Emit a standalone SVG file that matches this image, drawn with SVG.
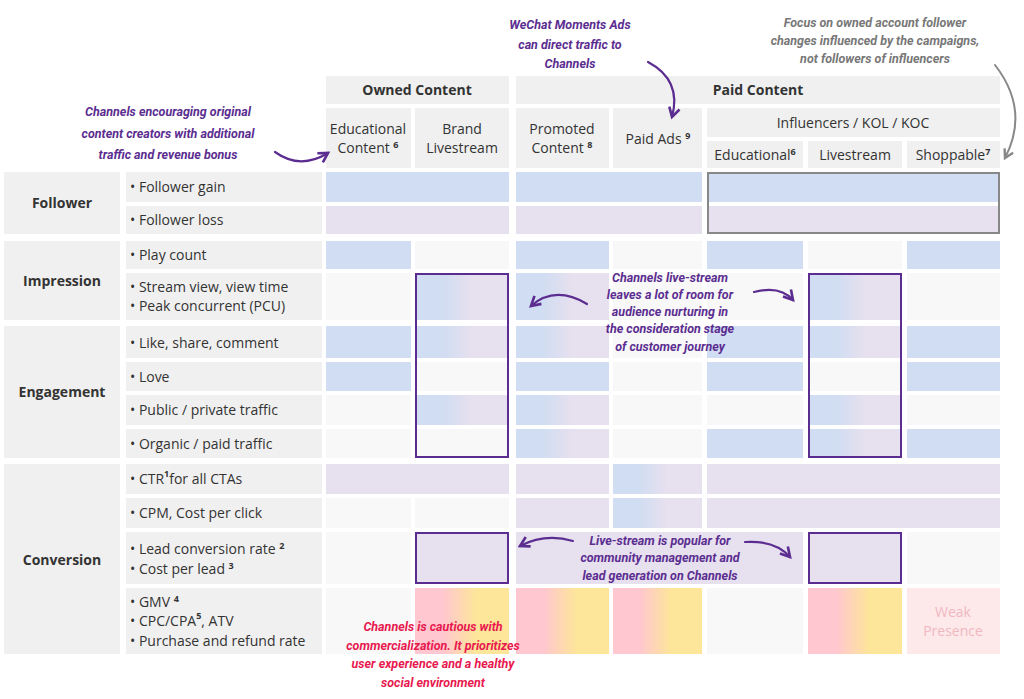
<svg xmlns="http://www.w3.org/2000/svg" width="1024" height="699" viewBox="0 0 1024 699">
<style>
.h{fill:#f0f0f0}
.t{font-family:"Open Sans","Noto Sans",sans-serif;font-size:14px;fill:#333}
.b{font-weight:bold}
.sup{font-size:9px;font-weight:bold}
.bl{fill:#d1ddf2}.lv{fill:#e6e0ef}.e{fill:#f8f8f8}.g{fill:url(#gbl)}.ry{fill:url(#gry)}
.note{font-family:"Roboto","Liberation Sans",sans-serif;font-style:italic;font-weight:bold;font-size:12.5px;fill:#5b2d90}
.box{fill:none;stroke:#5b2d90;stroke-width:2}
.arr{fill:none;stroke:#5b2d90;stroke-width:2.2;stroke-linecap:round}
</style>
<defs>
<linearGradient id="gbl" x1="0" y1="0" x2="1" y2="0"><stop offset="0.3" stop-color="#d1ddf2"/><stop offset="0.6" stop-color="#e6e0ef"/></linearGradient>
<linearGradient id="gry" x1="0" y1="0" x2="1" y2="0"><stop offset="0.3" stop-color="#ffc7cf"/><stop offset="0.65" stop-color="#fde59a"/></linearGradient>
<marker id="ah" viewBox="0 0 10 10" refX="8" refY="5" markerWidth="6" markerHeight="6" orient="auto"><path d="M1,1 L8,5 L1,9" fill="none" stroke="#5b2d90" stroke-width="2"/></marker>
<marker id="ahg" viewBox="0 0 10 10" refX="8" refY="5" markerWidth="6" markerHeight="6" orient="auto"><path d="M1,1 L8,5 L1,9" fill="none" stroke="#888" stroke-width="2"/></marker>
</defs>
<rect width="1024" height="699" fill="#fff"/>
<g id="headers">
<rect class="h" x="326" y="76" width="183" height="28"/><text class="t b" x="417" y="95" text-anchor="middle">Owned Content</text>
<rect class="h" x="516" y="76" width="484" height="28"/><text class="t b" x="758" y="95" text-anchor="middle">Paid Content</text>
<rect class="h" x="326" y="108" width="85" height="60"/><text class="t" x="368" y="134" text-anchor="middle">Educational</text><text class="t" x="368" y="153" text-anchor="middle">Content <tspan class="sup" dy="-5">6</tspan></text>
<rect class="h" x="415" y="108" width="94" height="60"/><text class="t" x="462" y="134" text-anchor="middle">Brand</text><text class="t" x="462" y="153" text-anchor="middle">Livestream</text>
<rect class="h" x="516" y="108" width="93" height="60"/><text class="t" x="562" y="134" text-anchor="middle">Promoted</text><text class="t" x="562" y="153" text-anchor="middle">Content <tspan class="sup" dy="-5">8</tspan></text>
<rect class="h" x="613" y="108" width="89" height="60"/><text class="t" x="658" y="144" text-anchor="middle">Paid Ads <tspan class="sup" dy="-5">9</tspan></text>
<rect class="h" x="707" y="108" width="293" height="29"/><text class="t" x="853" y="128" text-anchor="middle">Influencers / KOL / KOC</text>
<rect class="h" x="707" y="141" width="96" height="27"/><text class="t" x="755" y="160" text-anchor="middle">Educational<tspan class="sup" dy="-5">6</tspan></text>
<rect class="h" x="808" y="141" width="94" height="27"/><text class="t" x="855" y="160" text-anchor="middle">Livestream</text>
<rect class="h" x="907" y="141" width="93" height="27"/><text class="t" x="953" y="160" text-anchor="middle">Shoppable<tspan class="sup" dy="-5">7</tspan></text>
</g>
<g id="groups">
<rect class="h" x="4" y="172" width="116" height="62"/><text class="t b" x="62" y="208" text-anchor="middle">Follower</text>
<rect class="h" x="4" y="241" width="116" height="79"/><text class="t b" x="62" y="286" text-anchor="middle">Impression</text>
<rect class="h" x="4" y="326" width="116" height="132"/><text class="t b" x="62" y="397" text-anchor="middle">Engagement</text>
<rect class="h" x="4" y="464" width="116" height="190"/><text class="t b" x="62" y="565" text-anchor="middle">Conversion</text>
</g>
<g id="metrics">
<rect class="h" x="126" y="172" width="196" height="30"/><text class="t" x="130" y="192">•  Follower gain</text>
<rect class="h" x="126" y="206" width="196" height="28"/><text class="t" x="130" y="225">•  Follower loss</text>
<rect class="h" x="126" y="241" width="196" height="28"/><text class="t" x="130" y="260">•  Play count</text>
<rect class="h" x="126" y="273" width="196" height="47"/><text class="t" x="130" y="292">•  Stream view, view time</text><text class="t" x="130" y="311">•  Peak concurrent (PCU)</text>
<rect class="h" x="126" y="326" width="196" height="32"/><text class="t" x="130" y="348">•  Like, share, comment</text>
<rect class="h" x="126" y="362" width="196" height="29"/><text class="t" x="130" y="382">•  Love</text>
<rect class="h" x="126" y="395" width="196" height="30"/><text class="t" x="130" y="415">•  Public / private traffic</text>
<rect class="h" x="126" y="429" width="196" height="29"/><text class="t" x="130" y="449">•  Organic / paid traffic</text>
<rect class="h" x="126" y="464" width="196" height="30"/><text class="t" x="130" y="484">•  CTR<tspan class="sup" dy="-7">1</tspan><tspan dy="7">for all CTAs</tspan></text>
<rect class="h" x="126" y="498" width="196" height="30"/><text class="t" x="130" y="518">•  CPM, Cost per click</text>
<rect class="h" x="126" y="532" width="196" height="52"/><text class="t" x="130" y="554">•  Lead conversion rate <tspan class="sup" dy="-5">2</tspan></text><text class="t" x="130" y="574">•  Cost per lead <tspan class="sup" dy="-5">3</tspan></text>
<rect class="h" x="126" y="588" width="196" height="66"/><text class="t" x="130" y="607">•  GMV <tspan class="sup" dy="-5">4</tspan></text><text class="t" x="130" y="626">•  CPC/CPA<tspan class="sup" dy="-7">5</tspan><tspan dy="7">, ATV</tspan></text><text class="t" x="130" y="646">•  Purchase and refund rate</text>
</g>
<g id="cells">
<rect class="bl" x="326" y="172" width="183" height="30"/><rect class="bl" x="516" y="172" width="186" height="30"/><rect class="bl" x="707" y="172" width="293" height="30"/>
<rect class="lv" x="326" y="206" width="183" height="28"/><rect class="lv" x="516" y="206" width="186" height="28"/><rect class="lv" x="707" y="206" width="293" height="28"/>
<!-- play -->
<rect class="bl" x="326" y="241" width="85" height="28"/><rect class="e" x="415" y="241" width="94" height="28"/><rect class="bl" x="516" y="241" width="93" height="28"/><rect class="e" x="613" y="241" width="89" height="28"/><rect class="bl" x="707" y="241" width="96" height="28"/><rect class="e" x="808" y="241" width="94" height="28"/><rect class="bl" x="907" y="241" width="93" height="28"/>
<!-- stream -->
<rect class="e" x="326" y="273" width="85" height="47"/><rect class="g" x="415" y="273" width="94" height="47"/><rect class="g" x="516" y="273" width="93" height="47"/><rect class="e" x="613" y="273" width="89" height="47"/><rect class="e" x="707" y="273" width="96" height="47"/><rect class="g" x="808" y="273" width="94" height="47"/><rect class="e" x="907" y="273" width="93" height="47"/>
<!-- like -->
<rect class="bl" x="326" y="326" width="85" height="32"/><rect class="g" x="415" y="326" width="94" height="32"/><rect class="g" x="516" y="326" width="93" height="32"/><rect class="e" x="613" y="326" width="89" height="32"/><rect class="bl" x="707" y="326" width="96" height="32"/><rect class="g" x="808" y="326" width="94" height="32"/><rect class="bl" x="907" y="326" width="93" height="32"/>
<!-- love -->
<rect class="bl" x="326" y="362" width="85" height="29"/><rect class="e" x="415" y="362" width="94" height="29"/><rect class="bl" x="516" y="362" width="93" height="29"/><rect class="e" x="613" y="362" width="89" height="29"/><rect class="bl" x="707" y="362" width="96" height="29"/><rect class="e" x="808" y="362" width="94" height="29"/><rect class="bl" x="907" y="362" width="93" height="29"/>
<!-- public -->
<rect class="e" x="326" y="395" width="85" height="30"/><rect class="g" x="415" y="395" width="94" height="30"/><rect class="g" x="516" y="395" width="93" height="30"/><rect class="e" x="613" y="395" width="89" height="30"/><rect class="e" x="707" y="395" width="96" height="30"/><rect class="g" x="808" y="395" width="94" height="30"/><rect class="e" x="907" y="395" width="93" height="30"/>
<!-- organic -->
<rect class="e" x="326" y="429" width="85" height="29"/><rect class="e" x="415" y="429" width="94" height="29"/><rect class="g" x="516" y="429" width="93" height="29"/><rect class="e" x="613" y="429" width="89" height="29"/><rect class="bl" x="707" y="429" width="96" height="29"/><rect class="g" x="808" y="429" width="94" height="29"/><rect class="bl" x="907" y="429" width="93" height="29"/>
<!-- ctr -->
<rect class="lv" x="326" y="464" width="183" height="30"/><rect class="lv" x="516" y="464" width="93" height="30"/><rect class="g" x="613" y="464" width="89" height="30"/><rect class="lv" x="707" y="464" width="293" height="30"/>
<!-- cpm -->
<rect class="e" x="326" y="498" width="85" height="30"/><rect class="e" x="415" y="498" width="94" height="30"/><rect class="lv" x="516" y="498" width="93" height="30"/><rect class="g" x="613" y="498" width="89" height="30"/><rect class="lv" x="707" y="498" width="293" height="30"/>
<!-- lead -->
<rect class="e" x="326" y="532" width="85" height="52"/><rect class="lv" x="415" y="532" width="94" height="52"/><rect class="lv" x="516" y="532" width="287" height="52"/><rect class="lv" x="808" y="532" width="94" height="52"/><rect class="e" x="907" y="532" width="93" height="52"/>
<!-- gmv -->
<rect class="e" x="326" y="588" width="85" height="66"/><rect class="ry" x="415" y="588" width="94" height="66"/><rect class="ry" x="516" y="588" width="93" height="66"/><rect class="ry" x="613" y="588" width="89" height="66"/><rect class="e" x="707" y="588" width="96" height="66"/><rect class="ry" x="808" y="588" width="94" height="66"/><rect fill="#fde8ea" x="907" y="588" width="93" height="66"/>
<text class="t" x="953" y="617" text-anchor="middle" style="fill:#f0b8c0">Weak</text><text class="t" x="953" y="636" text-anchor="middle" style="fill:#f0b8c0">Presence</text>
</g>
<g id="highlights">
<rect x="708" y="173" width="291" height="60" fill="none" stroke="#888" stroke-width="2"/>
<rect class="box" x="416" y="274" width="92" height="183"/>
<rect class="box" x="809" y="274" width="92" height="183"/>
<rect class="box" x="416" y="533" width="92" height="50"/>
<rect class="box" x="809" y="533" width="92" height="50"/>
</g>
<g id="connectors">
<path class="arr" d="M275,152 Q300,170 328,153" marker-end="url(#ah)"/>
<path class="arr" d="M648,62 Q682,80 672,117" marker-end="url(#ah)"/>
<path d="M995,65 Q1030,110 1005,158" fill="none" stroke="#888" stroke-width="2" stroke-linecap="round" marker-end="url(#ahg)"/>
<path class="arr" d="M587,304 Q555,285 531,306" marker-end="url(#ah)"/>
<path class="arr" d="M754,292 Q780,285 793,300" marker-end="url(#ah)"/>
<path class="arr" d="M573,541 Q545,533 520,546" marker-end="url(#ah)"/>
<path class="arr" d="M745,542 Q775,540 790,557" marker-end="url(#ah)"/>
</g>
<g id="notes">
<text class="note" text-anchor="middle"><tspan x="168" y="116">Channels encouraging original</tspan><tspan x="168" y="138">content creators with additional</tspan><tspan x="168" y="159">traffic and revenue bonus</tspan></text>
<text class="note" text-anchor="middle"><tspan x="570" y="29">WeChat Moments Ads</tspan><tspan x="570" y="49">can direct traffic to</tspan><tspan x="570" y="68">Channels</tspan></text>
<text class="note" text-anchor="middle" style="fill:#777"><tspan x="875" y="27">Focus on owned account follower</tspan><tspan x="875" y="45">changes influenced by the campaigns,</tspan><tspan x="875" y="63">not followers of influencers</tspan></text>
<text class="note" text-anchor="middle"><tspan x="670" y="282">Channels live-stream</tspan><tspan x="670" y="299">leaves a lot of room for</tspan><tspan x="670" y="316">audience nurturing in</tspan><tspan x="670" y="333">the consideration stage</tspan><tspan x="670" y="351">of customer journey</tspan></text>
<text class="note" text-anchor="middle"><tspan x="660" y="545">Live-stream is popular for</tspan><tspan x="660" y="562">community management and</tspan><tspan x="660" y="580">lead generation on Channels</tspan></text>
<text class="note" text-anchor="middle" style="fill:#e8194f"><tspan x="433" y="631">Channels is cautious with</tspan><tspan x="433" y="650">commercialization. It prioritizes</tspan><tspan x="433" y="668">user experience and a healthy</tspan><tspan x="433" y="687">social environment</tspan></text>
</g>
</svg>
